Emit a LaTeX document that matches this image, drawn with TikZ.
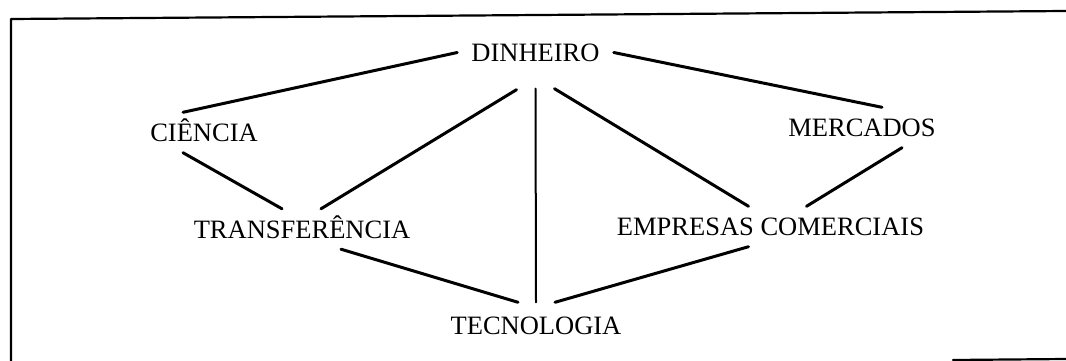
\documentclass[tikz,border=0pt]{standalone}
\usepackage{fontspec}
\setmainfont{Liberation Serif}
\begin{document}
\begin{tikzpicture}[x=1pt,y=-1pt,line cap=round,line join=round,
    lbl/.style={inner xsep=14pt,inner ysep=11pt,text height=18pt,text depth=0pt,
      font=\fontsize{26.5}{32}\selectfont},
    conn/.style={line width=3pt}]
  \useasboundingbox (0,0) rectangle (1066,361);
  % frame
  \draw[line width=2.2pt] (11,361)--(11,19)--(1066,11);
  \draw[line width=2.2pt] (953,360)--(1066,359);
  \node[lbl] (din) at (535.5,52.5) {DINHEIRO};
  \node[lbl] (cie) at (204,132.5) {CIÊNCIA};
  \node[lbl] (mer) at (862,127.5) {MERCADOS};
  \node[lbl] (tra) at (302,229) {TRANSFERÊNCIA};
  \node[lbl] (emp) at (770.5,226.5) {EMPRESAS COMERCIAIS};
  \node[lbl] (tec) at (536,325.5) {TECNOLOGIA};
  \draw[conn] (din.west)--([xshift=-21pt]cie.north);
  \draw[conn] (din.east)--([xshift=20pt]mer.north);
  \draw[conn] ([xshift=-19pt,yshift=-17pt]din.south)--([xshift=19pt]tra.north);
  \draw[line width=2pt] ([yshift=-16pt]din.south)--([yshift=3pt]tec.north);
  \draw[conn] ([xshift=19pt,yshift=-16pt]din.south)--([xshift=-22pt]emp.north);
  \draw[conn] ([xshift=-21pt]cie.south)--([xshift=-20pt]tra.north);
  \draw[conn] ([xshift=40pt]mer.south)--([xshift=36pt]emp.north);
  \draw[conn] ([xshift=39pt]tra.south)--([xshift=-18pt,yshift=3pt]tec.north);
  \draw[conn] ([xshift=-22pt]emp.south)--([xshift=19pt,yshift=3pt]tec.north);
\end{tikzpicture}
\end{document}
